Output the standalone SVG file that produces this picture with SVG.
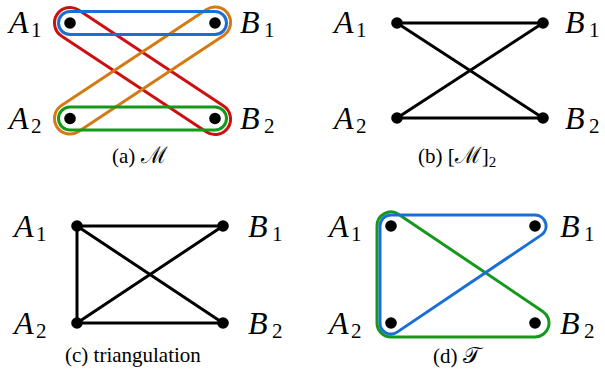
<svg xmlns="http://www.w3.org/2000/svg" width="605" height="383" viewBox="0 0 605 383">
<style>
.lab{font-family:"Liberation Serif","Times New Roman",serif;font-style:italic;font-size:32px;fill:#000}
.sub{font-style:normal;font-size:21px}
.cap{font-family:"Liberation Serif","Times New Roman",serif;font-size:21px;fill:#000}
.scr{font-family:"DejaVu Serif",serif;font-size:23px}
.dot{fill:#000}
.edge{stroke:#000;stroke-width:3;fill:none;stroke-linecap:round}
.hyp{fill:none;stroke-width:3}
.blue{stroke:#1a6fd4}
.red{stroke:#cc1010}
.orange{stroke:#d47a14}
.green{stroke:#14991a}
</style>
<rect width="605" height="383" fill="#fff"/>

<g id="connectors">
  <!-- (a) -->
  <rect class="hyp red" x="-15.5" y="-15.5" width="205" height="31" rx="15.5" transform="translate(70 23) rotate(33.5)"/>
  <rect class="hyp orange" x="-15.5" y="-15.5" width="205" height="31" rx="15.5" transform="translate(70 118.5) rotate(-33.5)"/>
  <rect class="hyp blue" x="58.5" y="11.5" width="168" height="23" rx="11.5"/>
  <rect class="hyp green" x="58.5" y="107" width="168" height="23" rx="11.5"/>
  <!-- (b) -->
  <line class="edge" x1="397" y1="23" x2="543" y2="23"/>
  <line class="edge" x1="397" y1="118" x2="543" y2="118"/>
  <line class="edge" x1="397" y1="23" x2="543" y2="118"/>
  <line class="edge" x1="397" y1="118" x2="543" y2="23"/>
  <!-- (c) -->
  <line class="edge" x1="77" y1="226" x2="223" y2="226"/>
  <line class="edge" x1="77" y1="323" x2="223" y2="323"/>
  <line class="edge" x1="77" y1="226" x2="77" y2="323"/>
  <line class="edge" x1="77" y1="226" x2="223" y2="323"/>
  <line class="edge" x1="77" y1="323" x2="223" y2="226"/>
  <!-- (d) -->
  <path class="hyp green" d="M398.82 214.39 L542.82 311.39 A14 14 0 0 1 535 337 L391 337 A14 14 0 0 1 377 323 L377 226 A14 14 0 0 1 398.82 214.39 Z"/>
  <path class="hyp blue" d="M391 215 L535 215 A11 11 0 0 1 541.15 235.12 L397.15 332.12 A11 11 0 0 1 380 323 L380 226 A11 11 0 0 1 391 215 Z"/>
</g>

<!-- panel (a) nodes -->
<g id="a-A1"><circle class="dot" cx="70" cy="23" r="5.8"/><text class="lab" x="9" y="33">A<tspan class="sub" x="31" y="37">1</tspan></text></g>
<g id="a-B1"><circle class="dot" cx="215" cy="23" r="5.8"/><text class="lab" x="240" y="33">B<tspan class="sub" x="264" y="37">1</tspan></text></g>
<g id="a-A2"><circle class="dot" cx="70" cy="118.5" r="5.8"/><text class="lab" x="9" y="129">A<tspan class="sub" x="31" y="133">2</tspan></text></g>
<g id="a-B2"><circle class="dot" cx="215" cy="118.5" r="5.8"/><text class="lab" x="240" y="129">B<tspan class="sub" x="264" y="133">2</tspan></text></g>
<text id="cap-a" class="cap" x="112" y="163">(a) <tspan class="scr">ℳ</tspan></text>

<!-- panel (b) nodes -->
<g id="b-A1"><circle class="dot" cx="397" cy="23" r="5.8"/><text class="lab" x="334" y="33">A<tspan class="sub" x="356" y="37">1</tspan></text></g>
<g id="b-B1"><circle class="dot" cx="543" cy="23" r="5.8"/><text class="lab" x="565" y="33">B<tspan class="sub" x="589" y="37">1</tspan></text></g>
<g id="b-A2"><circle class="dot" cx="397" cy="118" r="5.8"/><text class="lab" x="334" y="129">A<tspan class="sub" x="356" y="133">2</tspan></text></g>
<g id="b-B2"><circle class="dot" cx="543" cy="118" r="5.8"/><text class="lab" x="565" y="129">B<tspan class="sub" x="589" y="133">2</tspan></text></g>
<text id="cap-b" class="cap" x="418" y="163">(b) [<tspan class="scr">ℳ</tspan>]<tspan font-size="15" dy="4">2</tspan></text>

<!-- panel (c) nodes -->
<g id="c-A1"><circle class="dot" cx="77" cy="226" r="5.8"/><text class="lab" x="14" y="237">A<tspan class="sub" x="36" y="241">1</tspan></text></g>
<g id="c-B1"><circle class="dot" cx="223" cy="226" r="5.8"/><text class="lab" x="248" y="237">B<tspan class="sub" x="272" y="241">1</tspan></text></g>
<g id="c-A2"><circle class="dot" cx="77" cy="323" r="5.8"/><text class="lab" x="14" y="334">A<tspan class="sub" x="36" y="338">2</tspan></text></g>
<g id="c-B2"><circle class="dot" cx="223" cy="323" r="5.8"/><text class="lab" x="248" y="334">B<tspan class="sub" x="272" y="338">2</tspan></text></g>
<text id="cap-c" class="cap" x="65" y="362">(c) triangulation</text>

<!-- panel (d) nodes -->
<g id="d-A1"><circle class="dot" cx="391" cy="226" r="5.8"/><text class="lab" x="329" y="237">A<tspan class="sub" x="351" y="241">1</tspan></text></g>
<g id="d-B1"><circle class="dot" cx="535" cy="226" r="5.8"/><text class="lab" x="560" y="237">B<tspan class="sub" x="584" y="241">1</tspan></text></g>
<g id="d-A2"><circle class="dot" cx="391" cy="323" r="5.8"/><text class="lab" x="329" y="334">A<tspan class="sub" x="351" y="338">2</tspan></text></g>
<g id="d-B2"><circle class="dot" cx="535" cy="323" r="5.8"/><text class="lab" x="560" y="334">B<tspan class="sub" x="584" y="338">2</tspan></text></g>
<text id="cap-d" class="cap" x="433" y="363">(d) <tspan class="scr">𝒯</tspan></text>
</svg>
